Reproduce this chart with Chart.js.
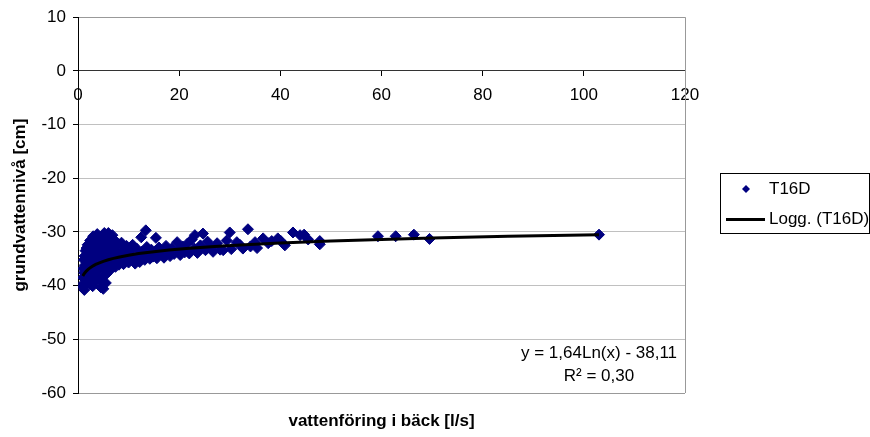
<!DOCTYPE html>
<html>
<head>
<meta charset="utf-8">
<script src="https://cdn.jsdelivr.net/npm/chart.js@4.4.1/dist/chart.umd.min.js"></script>
<style>
  html, body { margin: 0; padding: 0; background: #fff; }
  #wrap { width: 870px; height: 437px; position: relative; }
</style>
</head>
<body>
<div id="wrap"><canvas id="chart"></canvas></div>
<script>
// Mätdata T16D: vattenföring (l/s) mot grundvattennivå (cm)
const flow = [
  0.95, 1.0, 1.05, 1.1, 1.15, 1.2, 1.25, 1.3, 1.35, 1.4, 1.5, 1.55, 1.6, 1.65, 1.7, 1.8,
  1.75, 1.85, 1.9, 2.0, 2.1, 2.2, 2.3, 2.4, 2.5, 2.6, 2.7, 2.8, 2.9, 3.0, 3.1, 3.2, 3.3, 3.4, 3.5,
  3.6, 3.7, 3.8, 3.9, 4.0, 4.1, 4.2, 4.3, 4.4, 4.5, 4.6, 4.7, 4.8, 4.9, 5.0, 5.1, 5.2, 5.3, 5.4, 5.5, 5.6, 5.8, 5.9,
  2.05, 2.45, 3.15, 3.55, 4.25, 4.65, 5.05, 5.45, 5.65, 6.15,
  6.0, 6.1, 6.2, 6.3, 6.4, 6.5, 6.6, 6.8, 6.9, 7.0, 7.1, 7.3, 7.4, 7.5, 7.7, 7.8, 8.0, 8.1, 8.3, 8.5, 8.6, 8.8, 9.0, 9.2, 9.4, 9.6, 9.8, 10.0,
  10.3, 10.5, 10.8, 11.0, 11.3, 11.6, 11.9, 12.2, 12.5, 12.6, 12.9, 13.2, 13.4, 13.6, 13.9, 14.2, 14.5, 14.8, 15.4, 15.3, 15.6, 16.0, 16.3, 16.7, 17.0, 17.4, 17.8, 18.2, 18.6, 19.0, 19.6, 19.8,
  20.2, 20.7, 21.1, 21.6, 22.0, 22.5, 23.0, 23.1, 23.6, 24.2, 24.7, 25.2, 25.6, 26.3, 26.7, 27.5, 28.1, 28.7, 29.4, 30.0, 30.3, 31.4, 32.0, 32.6, 33.6, 34.1, 35.0, 35.4,
  36.6, 37.6, 38.3, 39.5, 40.0, 40.9, 42.5, 43.9, 44.7, 45.5, 47.8, 47.8, 59.3, 62.8, 66.4, 69.5, 103
];
const level = [
  -40.2, -38.5, -36.8, -39.6, -35.2, -37.6, -40.8, -34.5, -36.2, -38.9, -33.5, -37.1, -39.8, -35.6, -33.0, -38.2,
  -34.4, -36.7, -32.4, -39.2, -33.1, -37.5, -35.3, -31.6, -38.6, -34.0, -36.3, -32.4, -40.1, -30.8, -35.0, -37.9, -33.6, -31.5, -36.6,
  -39.0, -34.6, -30.4, -32.8, -37.2, -35.8, -31.4, -33.9, -36.0, -40.3, -30.9, -34.2, -38.4, -32.2, -40.6, -35.4, -30.2, -36.9, -33.3, -39.5, -31.7, -34.8, -37.4,
  -35.9, -37.0, -38.8, -32.1, -38.9, -36.4, -33.0, -35.9, -37.8, -37.3,
  -30.2, -32.5, -35.9, -33.8, -36.8, -31.1, -34.5, -30.6, -36.2, -32.9, -35.2, -33.6, -36.5, -31.8, -34.1, -35.8, -32.3, -36.1, -33.9, -35.5, -32.0, -34.7, -36.0, -33.2, -35.1, -32.6, -34.4, -35.7,
  -33.5, -35.3, -32.4, -34.6, -35.9, -33.1, -34.9, -35.6, -31.0, -33.7, -34.3, -35.2, -29.7, -32.8, -34.0, -35.0, -33.3, -34.6, -31.1, -33.6, -34.9, -32.9, -34.2, -33.5, -34.8, -32.6, -33.9, -34.5, -33.0, -34.1, -31.9, -33.4,
  -34.3, -32.7, -33.8, -32.2, -34.0, -31.4, -33.1, -30.6, -33.9, -32.5, -30.3, -33.4, -31.8, -32.9, -33.7, -32.1, -33.3, -33.4, -31.6, -30.1, -33.2, -31.9, -32.4, -33.1, -29.5, -32.7, -31.9, -33.0,
  -31.2, -32.1, -31.7, -31.2, -31.6, -32.5, -30.1, -30.6, -30.5, -31.4, -31.7, -32.3, -30.8, -30.8, -30.5, -31.3, -30.5
];

// logaritmisk trendlinje y = a*ln(x) + b
const trendSlope = 1.64;
const trendIntercept = -38.11;
const trendR2 = 0.30;
const trendX = [0.95, 1.1, 1.3, 1.6, 2, 2.5, 3, 3.5, 4, 5, 6, 7, 8, 10, 12, 15, 18, 22, 27, 33, 40, 50, 60, 70, 85, 103];

const xRange = [0, 120];
const yRange = [-60, 10];
const tickStep = [20, 10];

const seriesName = 'T16D';
const trendName = 'Logg. (T16D)';
const navy = '#000080';
const FONT = "'Liberation Sans', Arial, sans-serif";

Chart.defaults.font.family = FONT;
Chart.defaults.font.size = 17;
Chart.defaults.color = '#000';

const points = flow.map((x, i) => ({ x: x, y: level[i] }));
const trend = trendX.map(x => ({ x: x, y: trendSlope * Math.log(x) + trendIntercept }));

const fmt = v => v.toFixed(2).replace('.', ',');

// högra ramen runt ritytan
const plotFrame = {
  id: 'plotFrame',
  beforeDatasetsDraw(chart) {
    const { ctx, chartArea: a } = chart;
    ctx.save();
    ctx.strokeStyle = '#999';
    ctx.lineWidth = 1;
    ctx.beginPath();
    ctx.moveTo(Math.round(a.right) + 0.5, a.top);
    ctx.lineTo(Math.round(a.right) + 0.5, a.bottom);
    ctx.stroke();
    ctx.restore();
  }
};

// ekvation och R² nere till höger
const trendLabel = {
  id: 'trendLabel',
  afterDatasetsDraw(chart) {
    const { ctx, chartArea: a } = chart;
    const sign = trendIntercept < 0 ? '-' : '+';
    ctx.save();
    ctx.font = '17px ' + FONT;
    ctx.fillStyle = '#000';
    ctx.textAlign = 'center';
    ctx.textBaseline = 'middle';
    const cx = a.right - 86;
    ctx.fillText('y = ' + fmt(trendSlope) + 'Ln(x) ' + sign + ' ' + fmt(Math.abs(trendIntercept)), cx, a.bottom - 40);
    ctx.fillText('R\u00B2 = ' + fmt(trendR2), cx, a.bottom - 17);
    ctx.restore();
  }
};

// förklaringsruta till höger om diagrammet
const boxLegend = {
  id: 'boxLegend',
  afterDraw(chart) {
    const { ctx, chartArea: a } = chart;
    const left = Math.round(a.right) + 35;
    const top = 173;
    ctx.save();
    ctx.strokeStyle = '#000';
    ctx.lineWidth = 1;
    ctx.strokeRect(left + 0.5, top + 0.5, 149, 60);

    const mx = left + 26, my = top + 16, r = 4;
    ctx.fillStyle = navy;
    ctx.beginPath();
    ctx.moveTo(mx, my - r);
    ctx.lineTo(mx + r, my);
    ctx.lineTo(mx, my + r);
    ctx.lineTo(mx - r, my);
    ctx.closePath();
    ctx.fill();

    ctx.strokeStyle = '#000';
    ctx.lineWidth = 3;
    ctx.beginPath();
    ctx.moveTo(left + 6, top + 46.5);
    ctx.lineTo(left + 45, top + 46.5);
    ctx.stroke();

    ctx.font = '17px ' + FONT;
    ctx.fillStyle = '#000';
    ctx.textBaseline = 'middle';
    ctx.fillText(seriesName, left + 49, top + 16);
    ctx.fillText(trendName, left + 49, top + 46);
    ctx.restore();
  }
};

new Chart(document.getElementById('chart'), {
  type: 'scatter',
  data: {
    datasets: [
      {
        label: trendName,
        type: 'line',
        data: trend,
        borderColor: '#000',
        borderWidth: 3,
        pointRadius: 0,
        fill: false,
        tension: 0,
        order: 0
      },
      {
        label: seriesName,
        data: points,
        pointStyle: 'rectRot',
        pointRadius: 5.5,
        pointHoverRadius: 5.5,
        backgroundColor: navy,
        borderColor: navy,
        borderWidth: 1,
        order: 1
      }
    ]
  },
  options: {
    responsive: true,
    maintainAspectRatio: false,
    animation: false,
    layout: { padding: { top: 15, right: 185, left: 0, bottom: 0 } },
    plugins: {
      legend: { display: false },
      tooltip: { enabled: false }
    },
    scales: {
      x: {
        type: 'linear',
        position: { y: 0 },
        min: xRange[0],
        max: xRange[1],
        ticks: { stepSize: tickStep[0], padding: 9 },
        grid: { drawOnChartArea: false, drawTicks: true, tickLength: 5, tickColor: '#000' },
        border: { color: '#333', width: 1 }
      },
      x2: {
        type: 'linear',
        axis: 'x',
        position: 'bottom',
        min: xRange[0],
        max: xRange[1],
        ticks: { display: false },
        grid: { display: false },
        border: { display: false },
        title: {
          display: true,
          text: 'vattenföring i bäck [l/s]',
          font: { size: 17, weight: 'bold' },
          padding: { top: 0, bottom: 5 }
        },
        afterFit: s => { s.height = 44; }
      },
      y: {
        type: 'linear',
        position: 'left',
        min: yRange[0],
        max: yRange[1],
        ticks: { stepSize: tickStep[1], padding: 7 },
        grid: {
          tickLength: 5,
          tickColor: '#000',
          color: c => {
            const v = c.tick ? c.tick.value : null;
            if (v === yRange[0] || v === yRange[1]) return '#999';
            if (v === 0) return '#333';
            return '#c0c0c0';
          }
        },
        border: { color: '#000', width: 1 },
        title: {
          display: true,
          text: 'grundvattennivå [cm]',
          font: { size: 17, weight: 'bold' },
          padding: { top: 10, bottom: 0 }
        },
        afterFit: s => { s.width = 78; }
      }
    }
  },
  plugins: [plotFrame, trendLabel, boxLegend]
});
</script>
</body>
</html>
